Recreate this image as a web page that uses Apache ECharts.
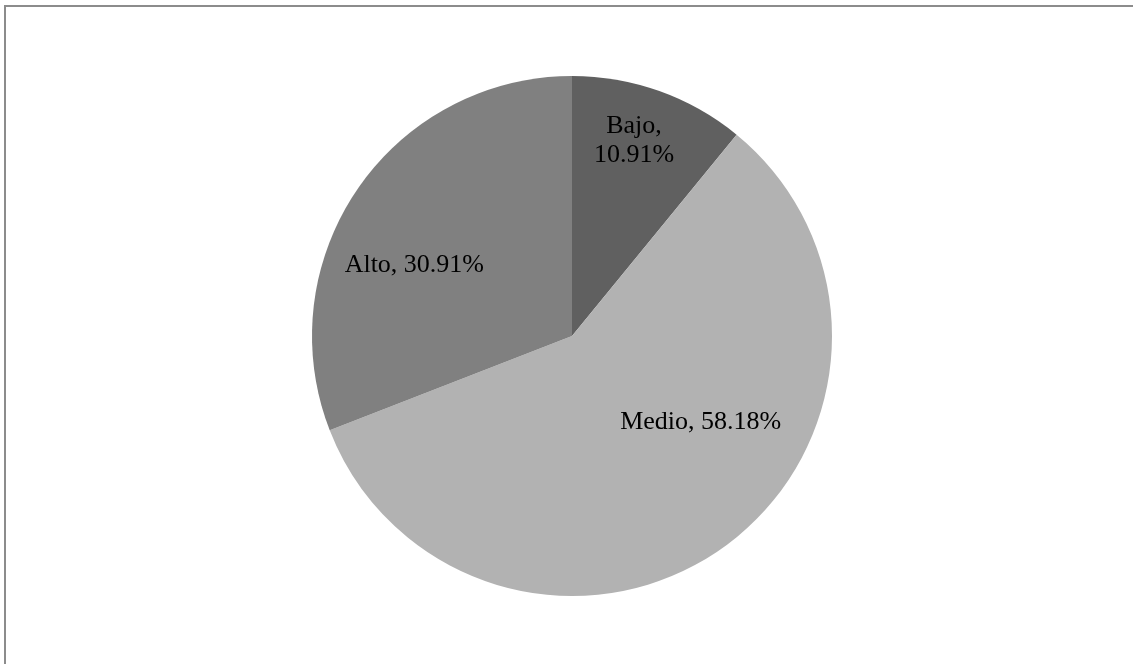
<!DOCTYPE html>
<html>
<head>
<meta charset="utf-8">
<script src="https://cdn.jsdelivr.net/npm/echarts@6/dist/echarts.min.js"></script>
<style>
html,body{margin:0;padding:0;background:#fff;}
#chart{width:1133px;height:664px;}
</style>
</head>
<body>
<div id="chart"></div>
<script>
// Data
const categories = ['Bajo', 'Medio', 'Alto'];
const values = [10.91, 58.18, 30.91];
const labelTexts = ['Bajo,\n10.91%', 'Medio, 58.18%', 'Alto, 30.91%'];

// Style
const colors = ['#606060', '#b2b2b2', '#808080'];
// label placement: [fraction of radius, angle offset from slice middle (deg)]
const labelPlace = [[0.80, -2.3], [0.59, -21.0], [0.67, -9.2]];

const cx = 572, cy = 336, R = 260;

const total = values.reduce((a, b) => a + b, 0);
const midAngles = [];
let acc = 0;
values.forEach(v => { midAngles.push((acc + v / 2) / total * 360); acc += v; });

const chart = echarts.init(document.getElementById('chart'), null, {renderer: 'canvas'});
chart.setOption({
  backgroundColor: '#ffffff',
  animation: false,
  graphic: [{
    type: 'rect',
    shape: {x: 5, y: 6, width: 1200, height: 800},
    style: {fill: 'none', stroke: '#8c8c8c', lineWidth: 2},
    silent: true
  }],
  series: [{
    type: 'pie',
    center: [cx, cy],
    radius: R,
    startAngle: 90,
    clockwise: true,
    avoidLabelOverlap: false,
    itemStyle: {borderWidth: 0},
    label: {
      show: true,
      position: 'inside',
      color: '#000',
      fontFamily: '"Liberation Serif", "Times New Roman", serif',
      fontSize: 26,
      lineHeight: 29,
      align: 'center',
      formatter: p => labelTexts[p.dataIndex]
    },
    labelLine: {show: false},
    labelLayout: function (p) {
      const i = p.dataIndex;
      const a = (midAngles[i] + labelPlace[i][1]) * Math.PI / 180;
      const d = labelPlace[i][0] * R;
      return {
        x: cx + d * Math.sin(a),
        y: cy - d * Math.cos(a) + 3,
        align: 'center',
        verticalAlign: 'middle'
      };
    },
    emphasis: {disabled: true},
    data: categories.map((c, i) => ({name: c, value: values[i], itemStyle: {color: colors[i]}}))
  }]
});
</script>
</body>
</html>
